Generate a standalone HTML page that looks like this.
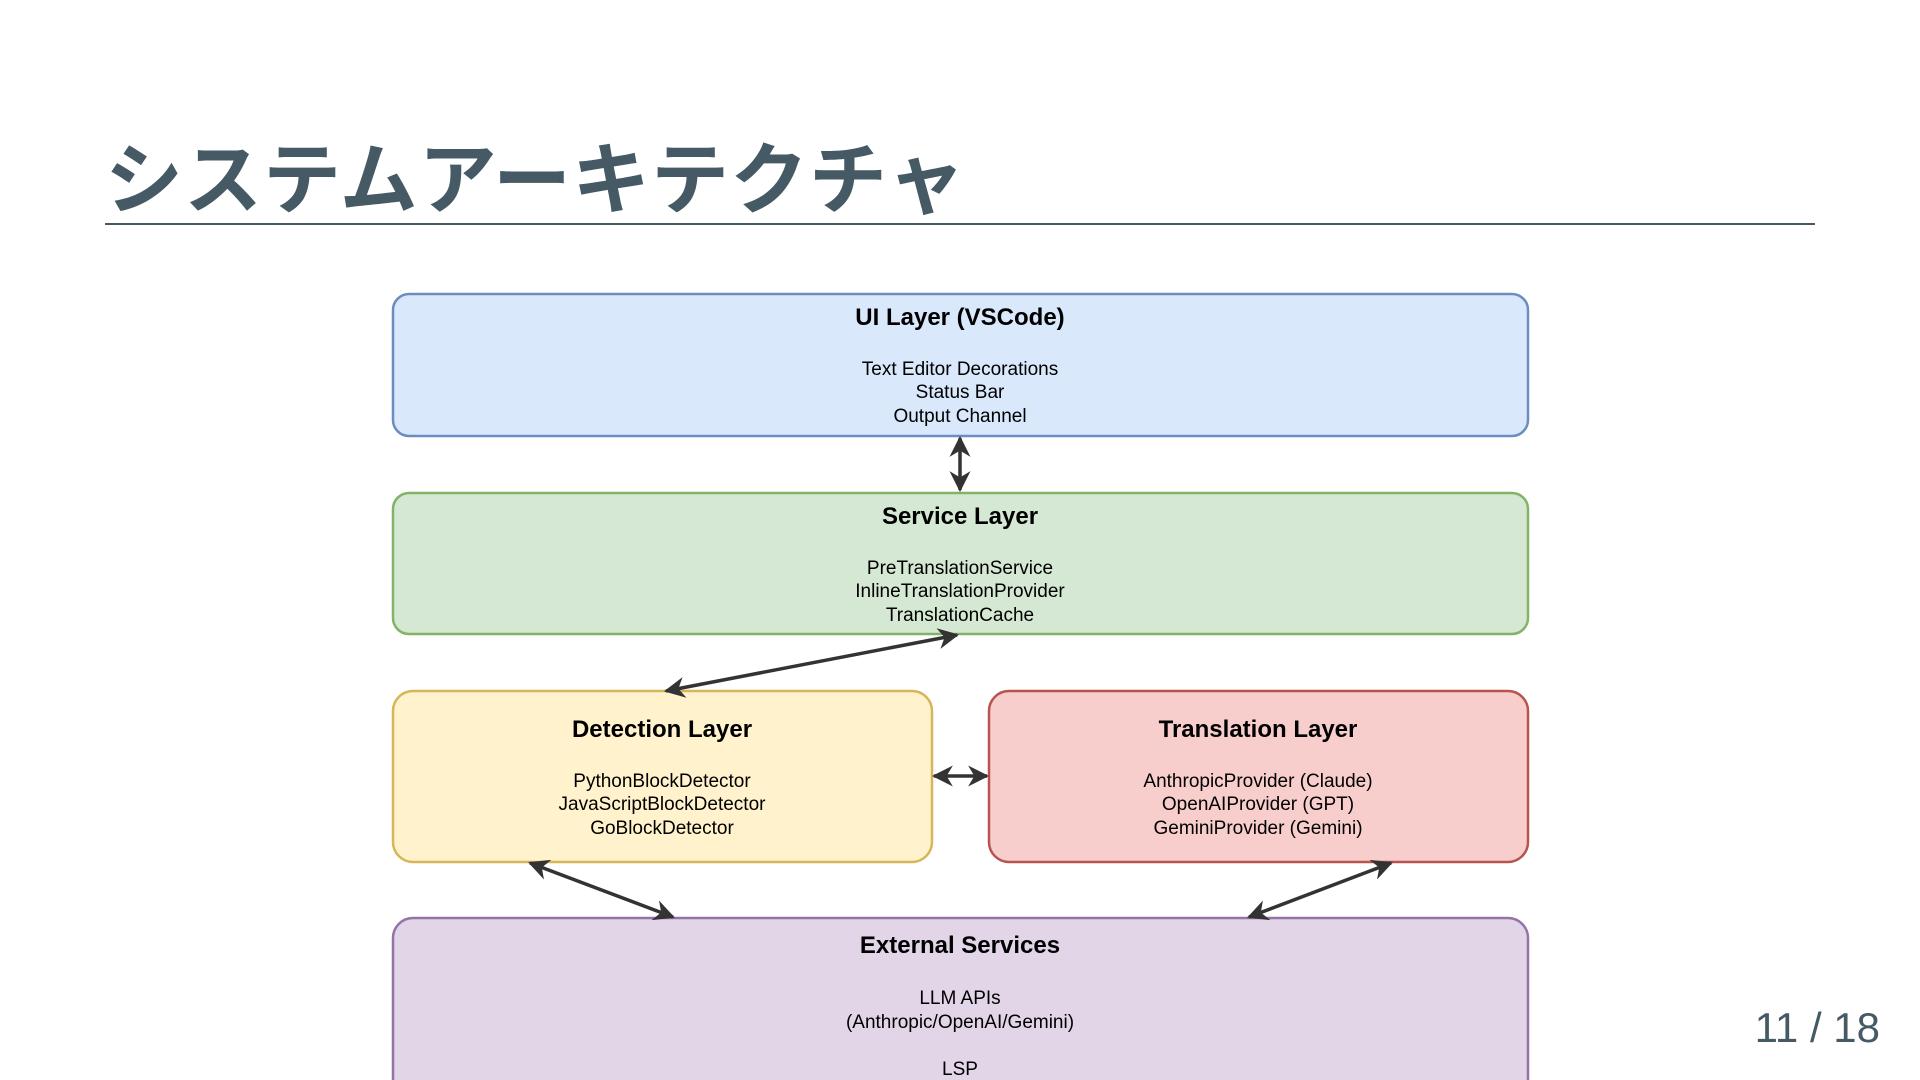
<!DOCTYPE html>
<html><head><meta charset="utf-8"><style>
html,body{margin:0;padding:0;background:#fff;width:1920px;height:1080px;overflow:hidden}
.t{position:absolute;left:105px;top:118px;font-family:"Liberation Sans","Noto Sans CJK JP",sans-serif;font-size:78px;font-weight:bold;color:#455a64;letter-spacing:1px;white-space:nowrap}
.hr{position:absolute;left:105px;top:223px;width:1710px;height:2px;background:#455a64}
.pg{position:absolute;right:40px;top:1004px;font-family:"Liberation Sans",sans-serif;font-size:42px;color:#455a64}
svg{position:absolute;left:0;top:0}
text{font-family:"Liberation Sans",sans-serif;fill:#000;text-anchor:middle}
.h{font-size:24px;font-weight:bold}
.b{font-size:19px}
</style></head><body>
<div class="t">システムアーキテクチャ</div>
<div class="hr"></div>
<div class="pg">11 / 18</div>
<svg width="1920" height="1080" viewBox="0 0 1920 1080">
<defs><marker id="a" viewBox="0 0 10 10" refX="9" refY="5" markerWidth="6" markerHeight="6" orient="auto-start-reverse"><path d="M0,0 L10,5 L0,10 L3,5 z" fill="#333"/></marker></defs>
<rect x="393" y="294" width="1135" height="142" rx="16" fill="#dae8fc" stroke="#6c8ebf" stroke-width="2.5"/>
<rect x="393" y="493" width="1135" height="141" rx="16" fill="#d5e8d4" stroke="#82b366" stroke-width="2.5"/>
<rect x="393" y="691" width="539" height="171" rx="20" fill="#fff2cc" stroke="#d6b656" stroke-width="2.5"/>
<rect x="989" y="691" width="539" height="171" rx="20" fill="#f8cecc" stroke="#b85450" stroke-width="2.5"/>
<rect x="393" y="918" width="1135" height="200" rx="20" fill="#e1d5e7" stroke="#9673a6" stroke-width="2.5"/>
<g stroke="#333" stroke-width="3.5" fill="none">
<line x1="960" y1="438" x2="960" y2="490" marker-start="url(#a)" marker-end="url(#a)"/>
<line x1="957" y1="635" x2="666" y2="691" marker-start="url(#a)" marker-end="url(#a)"/>
<line x1="934" y1="776" x2="987" y2="776" marker-start="url(#a)" marker-end="url(#a)"/>
<line x1="530" y1="863" x2="673" y2="917" marker-start="url(#a)" marker-end="url(#a)"/>
<line x1="1391" y1="863" x2="1249" y2="917" marker-start="url(#a)" marker-end="url(#a)"/>
</g>
<text class="h" x="960" y="325">UI Layer (VSCode)</text>
<text class="b" x="960" y="375">Text Editor Decorations</text>
<text class="b" x="960" y="398">Status Bar</text>
<text class="b" x="960" y="422">Output Channel</text>
<text class="h" x="960" y="524">Service Layer</text>
<text class="b" x="960" y="574">PreTranslationService</text>
<text class="b" x="960" y="597">InlineTranslationProvider</text>
<text class="b" x="960" y="621">TranslationCache</text>
<text class="h" x="662" y="737">Detection Layer</text>
<text class="b" x="662" y="787">PythonBlockDetector</text>
<text class="b" x="662" y="810">JavaScriptBlockDetector</text>
<text class="b" x="662" y="834">GoBlockDetector</text>
<text class="h" x="1258" y="737">Translation Layer</text>
<text class="b" x="1258" y="787">AnthropicProvider (Claude)</text>
<text class="b" x="1258" y="810">OpenAIProvider (GPT)</text>
<text class="b" x="1258" y="834">GeminiProvider (Gemini)</text>
<text class="h" x="960" y="953">External Services</text>
<text class="b" x="960" y="1004">LLM APIs</text>
<text class="b" x="960" y="1028">(Anthropic/OpenAI/Gemini)</text>
<text class="b" x="960" y="1075">LSP</text>
</svg>
</body></html>
